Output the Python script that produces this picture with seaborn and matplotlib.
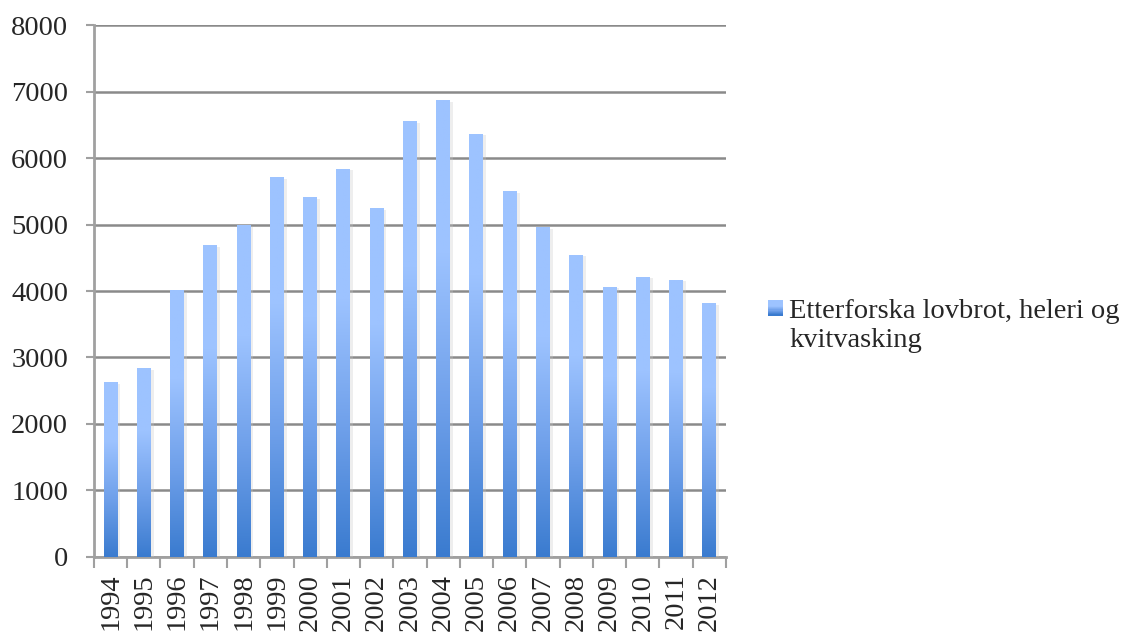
import numpy as np
import pandas as pd
import matplotlib
matplotlib.use("Agg")
import matplotlib.pyplot as plt
import matplotlib.patheffects as pe
from matplotlib.colors import LinearSegmentedColormap
from matplotlib.patches import Rectangle
from matplotlib.legend_handler import HandlerBase
import seaborn as sns

# Data
years = [str(y) for y in range(1994, 2013)]
cases = [2620, 2830, 4005, 4680, 4985, 5700, 5405, 5835, 5235, 6555,
         6870, 6360, 5490, 4960, 4540, 4060, 4210, 4165, 3805]
series_label = "Etterforska lovbrot, heleri og\nkvitvasking"
y_ticks = [0, 1000, 2000, 3000, 4000, 5000, 6000, 7000, 8000]

LIGHT = "#9DC3FF"
DARK = "#3A7BCF"
grad_cmap = LinearSegmentedColormap.from_list("bar_grad", [DARK, "#6FA0EA", LIGHT, LIGHT], N=256)

sns.set_theme(style="white")
plt.rcParams["font.family"] = ["Liberation Serif", "DejaVu Serif"]
FS = 20.5

df = pd.DataFrame({"year": years, "cases": cases})

fig = plt.figure(figsize=(11.21, 6.32), dpi=100)
ax = fig.add_axes([0.0838, 0.1187, 0.5638, 0.8417])

sns.barplot(data=df, x="year", y="cases", ax=ax, width=0.42,
            color=LIGHT, saturation=1, zorder=3)

# Replace the flat fill with a vertical gradient and a soft drop shadow
grad = np.linspace(0, 1, 256).reshape(-1, 1)
for bar in ax.patches:
    x0, y0 = bar.get_x(), bar.get_y()
    w, h = bar.get_width(), bar.get_height()
    bar.set_facecolor("none")
    bar.set_edgecolor("none")
    bar.set_path_effects([pe.SimplePatchShadow(offset=(2, -1), shadow_rgbFace="#c8c8c8", alpha=0.3)])
    ax.imshow(grad, extent=[x0, x0 + w, y0, y0 + h], origin="lower",
              cmap=grad_cmap, aspect="auto", zorder=4, interpolation="bilinear")

ax.set_xlim(-0.5, len(years) - 0.5)
ax.set_ylim(0, 8000)
ax.set_yticks(y_ticks)
ax.set_yticklabels([str(v) for v in y_ticks])
ax.set_xlabel("")
ax.set_ylabel("")

# Gridlines and spines
ax.yaxis.grid(True, color="#8a8a8a", linewidth=1.8, zorder=1)
ax.xaxis.grid(False)
for s in ["top", "right"]:
    ax.spines[s].set_visible(False)
ax.spines["left"].set_color("#a0a0a0")
ax.spines["left"].set_linewidth(2)
ax.spines["bottom"].set_color("#a0a0a0")
ax.spines["bottom"].set_linewidth(2)

# Category boundary ticks on x, short ticks on y
ax.set_xticks(np.arange(-0.5, len(years), 1.0), minor=True)
ax.tick_params(axis="x", which="minor", length=8, width=1.5, color="#a0a0a0", bottom=True)
ax.tick_params(axis="x", which="major", length=0, pad=12, labelsize=FS, rotation=90)
ax.tick_params(axis="y", which="major", length=6, width=1.5, color="#a0a0a0", left=True,
               pad=12.5, labelsize=FS)
for lbl in ax.get_xticklabels():
    lbl.set_verticalalignment("top")
ax.set_facecolor("white")


class GradientSquareHandler(HandlerBase):
    def create_artists(self, legend, orig_handle, xdescent, ydescent,
                       width, height, fontsize, trans):
        n = 12
        side = min(width, height)
        x = xdescent + (width - side) / 2
        y = -ydescent + height - side + 12
        artists = []
        for i in range(n):
            c = grad_cmap(i / (n - 1))
            r = Rectangle((x, y + side * i / n), side, side / n + 0.3,
                          facecolor=c, edgecolor="none", transform=trans)
            artists.append(r)
        return artists


proxy = Rectangle((0, 0), 1, 1)
leg = fig.legend([proxy], [series_label], handler_map={Rectangle: GradientSquareHandler()},
                 loc="upper left", bbox_to_anchor=(0.662, 0.567), frameon=False,
                 fontsize=FS, handlelength=0.53, handleheight=0.53, handletextpad=0.22,
                 labelspacing=0.2)

fig.savefig("out.png", dpi=100, facecolor="white")
